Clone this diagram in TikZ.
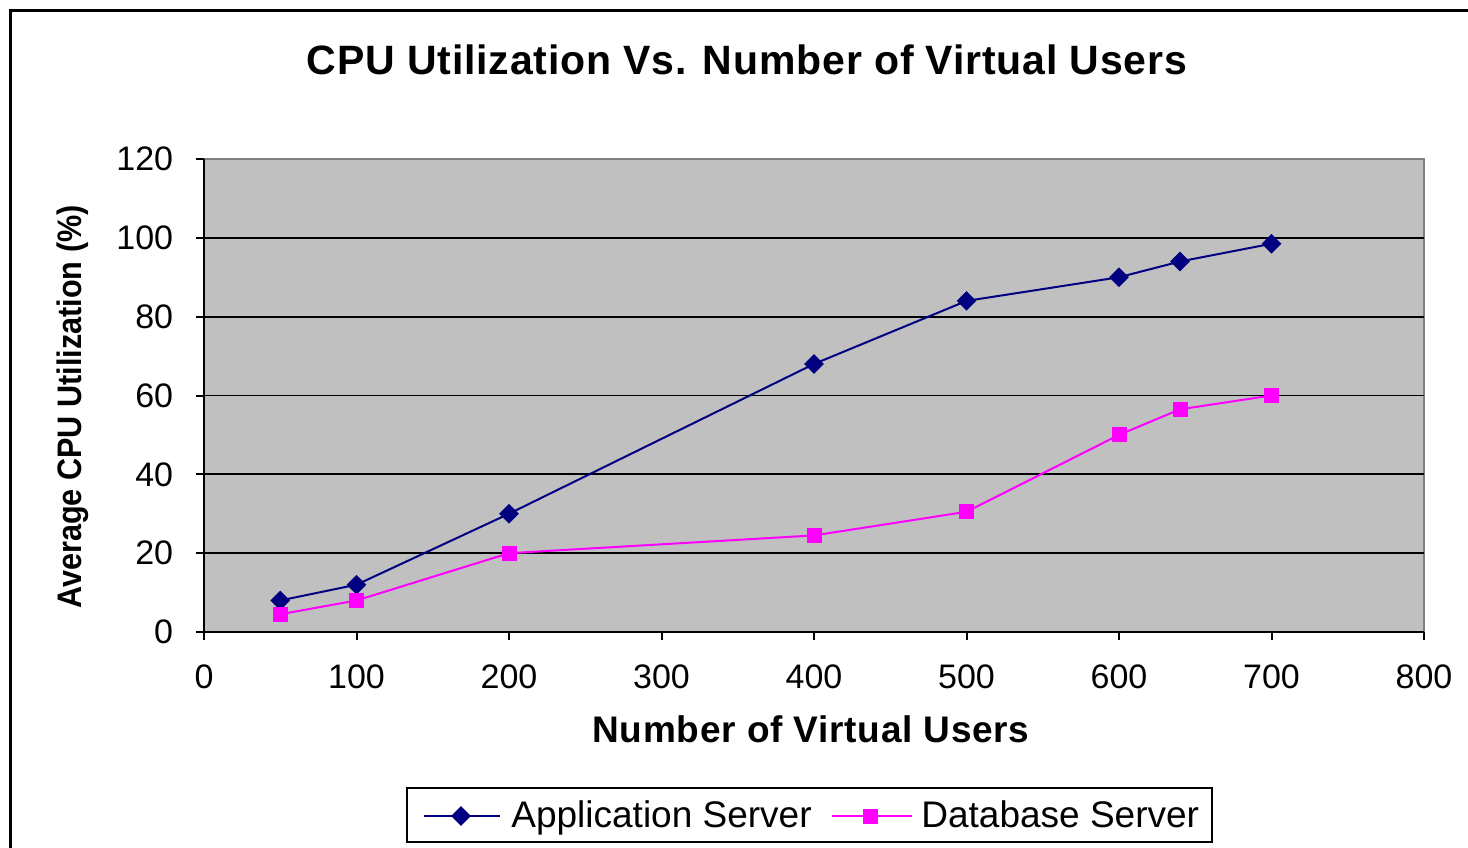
\documentclass[tikz,border=0pt]{standalone}
\usepackage{fontspec}
\setmainfont{Liberation Sans}
\definecolor{plotgray}{HTML}{C0C0C0}
\definecolor{bordergray}{HTML}{808080}
\definecolor{appblue}{HTML}{000080}
\definecolor{dbpink}{HTML}{FF00FF}
\tikzset{
  frameline/.style={line width=1.5pt, black},
  gridline/.style={line width=0.9pt, black},
  axisline/.style={line width=1pt, black},
  appline/.style={line width=1pt, appblue},
  dbline/.style={line width=1pt, dbpink},
  appmark/.style={diamond, fill=appblue, inner sep=0pt, minimum width=10pt, minimum height=10pt},
  dbmark/.style={rectangle, fill=dbpink, inner sep=0pt, minimum width=7.5pt, minimum height=7.5pt},
  ticklabel/.style={font=\fontsize{17}{20}\selectfont, inner sep=0pt},
  legendtext/.style={font=\fontsize{18.5}{22}\selectfont, inner sep=0pt, anchor=base west},
}
\usetikzlibrary{shapes.geometric}
\begin{document}
\begin{tikzpicture}[x=0.5pt,y=-0.5pt]
\useasboundingbox (0,0) rectangle (1468,847);
% outer frame
\coordinate (fbl) at (10,852);
\coordinate (ftl) at (10,10);
\coordinate (ftr) at (1472,10);
\draw[frameline] (fbl) -- (ftl) -- (ftr);
% title
\node[font=\fontsize{20.5}{24}\selectfont\bfseries\addfontfeature{LetterSpace=2}, inner sep=0pt] (title) at (747,60) {CPU Utilization Vs. Number of Virtual Users};
% plot area
\coordinate (pbl) at (204,632);
\coordinate (ptl) at (204,159);
\coordinate (ptr) at (1424,159);
\coordinate (pbr) at (1424,632);
\fill[plotgray] (pbl) rectangle (ptr);
\draw[bordergray, line width=1pt] (ptl) -- (ptr) -- (pbr);
\begin{scope}[shift={(204,632)}, x=0.7625pt, y=1.970833pt]
  \foreach \v in {20,40,...,100} {
    \draw[gridline] (0,\v) -- (800,\v);
  }
  \foreach \v in {0,20,...,120} {
    \draw[axisline] (-5.25,\v) -- (0,\v);
    \node[ticklabel, anchor=east] (yl\v) at (-20,\v) {\v};
  }
  \foreach \v in {0,100,...,800} {
    \draw[axisline] (\v,0) -- (\v,-2.03);
    \node[ticklabel] (xl\v) at (\v,-11.4) {\v};
  }
  \draw[axisline] (0,120) -- (0,0) -- (800,0);
  % data
  \coordinate (a1) at (50,8);
  \coordinate (a2) at (100,12);
  \coordinate (a3) at (200,30);
  \coordinate (a4) at (400,68);
  \coordinate (a5) at (500,84);
  \coordinate (a6) at (600,90);
  \coordinate (a7) at (640,94);
  \coordinate (a8) at (700,98.5);
  \coordinate (d1) at (50,4.5);
  \coordinate (d2) at (100,8);
  \coordinate (d3) at (200,20);
  \coordinate (d4) at (400,24.5);
  \coordinate (d5) at (500,30.5);
  \coordinate (d6) at (600,50);
  \coordinate (d7) at (640,56.5);
  \coordinate (d8) at (700,60);
  \draw[appline] (a1) -- (a2) -- (a3) -- (a4) -- (a5) -- (a6) -- (a7) -- (a8);
  \draw[dbline] (d1) -- (d2) -- (d3) -- (d4) -- (d5) -- (d6) -- (d7) -- (d8);
  \foreach \i in {1,...,8} {
    \node[appmark] (am\i) at (a\i) {};
    \node[dbmark] (dm\i) at (d\i) {};
  }
\end{scope}
% axis titles
\node[font=\fontsize{18.5}{22}\selectfont\bfseries\addfontfeature{LetterSpace=2}, inner sep=0pt] (xtitle) at (811,729) {Number of Virtual Users};
\node[font=\fontsize{17}{20}\selectfont\bfseries, inner sep=0pt, rotate=90] (ytitle) at (73,407) {\scalebox{0.9}[1]{Average CPU Utilization (\%)}};
% legend
\coordinate (lgtl) at (407,788);
\coordinate (lgbr) at (1212,842);
\draw[line width=1pt] (lgtl) rectangle (lgbr);
\coordinate (la1) at (424,816);
\coordinate (la2) at (500,816);
\draw[appline] (la1) -- (la2);
\node[appmark] (lam) at (461,816) {};
\node[legendtext] (lat) at (511,827) {Application Server};
\coordinate (ld1) at (832,816);
\coordinate (ld2) at (912,816);
\draw[dbline] (ld1) -- (ld2);
\node[dbmark] (ldm) at (870,816) {};
\node[legendtext] (ldt) at (921,827) {Database Server};
\end{tikzpicture}
\end{document}
